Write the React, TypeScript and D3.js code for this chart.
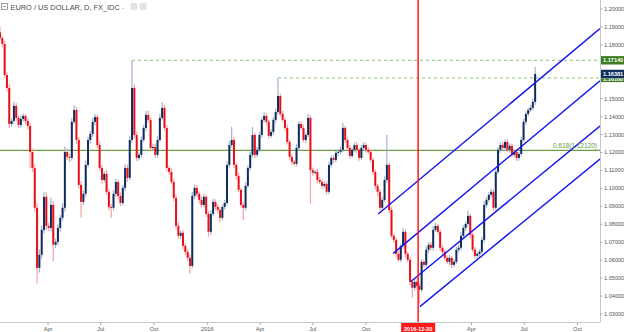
import React from "react";
import * as d3 from "d3";

const W = 624;
const H = 332;
const PLOT_RIGHT = 600;
const PLOT_BOTTOM = 322.5;

const START = new Date(2015, 0, 8);
const END = new Date(2017, 10, 9);
const STEP_DAYS = 4;

const title = "EURO / US DOLLAR, D, FX_IDC";
const firstOpen = 1.187;

// close of each 4-day candle
const closes = [
  1.1838, 1.1805, 1.1632, 1.156, 1.1359, 1.1376, 1.146, 1.1393, 1.1354, 1.1387,
  1.1404, 1.1376, 1.1348, 1.1203, 1.1114, 1.0892, 1.0557, 1.063, 1.0769, 1.0953,
  1.0791, 1.078, 1.0908, 1.0686, 1.0702, 1.078, 1.0836, 1.0892, 1.1203, 1.1176,
  1.117, 1.1371, 1.1437, 1.127, 1.102, 1.0925, 1.097, 1.1131, 1.127, 1.1304,
  1.1371, 1.1398, 1.1242, 1.1114, 1.1047, 1.1081, 1.0981, 1.0897, 1.0892, 1.097,
  1.1036, 1.0958, 1.0919, 1.1003, 1.1114, 1.1059, 1.127, 1.156, 1.1298, 1.117,
  1.1187, 1.127, 1.1337, 1.141, 1.1382, 1.1226, 1.1231, 1.1187, 1.127, 1.1393,
  1.1449, 1.1337, 1.1114, 1.1092, 1.1036, 1.0947, 1.0791, 1.0736, 1.0752, 1.068,
  1.0646, 1.0613, 1.0568, 1.0958, 1.1003, 1.097, 1.0936, 1.0908, 1.0953, 1.0858,
  1.0758, 1.0858, 1.0925, 1.0897, 1.088, 1.0836, 1.0897, 1.0919, 1.1131, 1.1242,
  1.127, 1.1131, 1.107, 1.0992, 1.0908, 1.0892, 1.1014, 1.1114, 1.1187, 1.1298,
  1.1187, 1.1215, 1.1298, 1.1382, 1.1404, 1.1371, 1.1293, 1.1315, 1.1382, 1.1426,
  1.1515, 1.1415, 1.1382, 1.1337, 1.1259, 1.1176, 1.1148, 1.1137, 1.1226, 1.1359,
  1.1337, 1.127, 1.1298, 1.1393, 1.1103, 1.1087, 1.1092, 1.1047, 1.1036, 1.1014,
  1.1025, 1.0981, 1.1131, 1.117, 1.1159, 1.1198, 1.1204, 1.1215, 1.1337, 1.127,
  1.1226, 1.1181, 1.1215, 1.1242, 1.1215, 1.117, 1.1226, 1.1242, 1.1215, 1.1204,
  1.1159, 1.1092, 1.1014, 1.0981, 1.0892, 1.0936, 1.1047, 1.1131, 1.088, 1.0736,
  1.0713, 1.0635, 1.0602, 1.068, 1.0758, 1.0635, 1.0602, 1.0479, 1.0446, 1.0479,
  1.0457, 1.0435, 1.0591, 1.0574, 1.0658, 1.0686, 1.0669, 1.0769, 1.0791, 1.0758,
  1.0669, 1.0647, 1.0613, 1.0591, 1.0613, 1.0574, 1.0591, 1.0658, 1.0669, 1.0736,
  1.078, 1.0802, 1.0847, 1.0741, 1.0658, 1.0624, 1.0635, 1.0647, 1.0713, 1.0908,
  1.0936, 1.0964, 1.0981, 1.0892, 1.1092, 1.1215, 1.1242, 1.1226, 1.1259, 1.1215,
  1.1237, 1.1187, 1.1204, 1.117, 1.1192, 1.127, 1.1371, 1.1415, 1.1437, 1.1449,
  1.1482, 1.16381,
];

// upper / lower wick beyond the body, in pips
const hiExt = [
  30, 12, 18, 15, 20, 14, 25, 16, 12, 18, 14, 10, 16, 20, 18, 22, 25, 30, 24, 28,
  26, 18, 40, 22, 18, 20, 16, 24, 30, 18, 20, 22, 28, 18, 16, 22, 20, 26, 18, 16,
  22, 18, 14, 20, 16, 18, 22, 14, 16, 20, 18, 14, 20, 16, 22, 18, 24, 154, 20, 18,
  16, 20, 18, 22, 26, 14, 18, 16, 20, 24, 33, 18, 16, 14, 20, 18, 16, 22, 14, 18,
  16, 14, 20, 22, 18, 16, 14, 20, 18, 12, 16, 20, 18, 14, 16, 18, 12, 16, 20, 22,
  73, 16, 14, 18, 12, 16, 20, 14, 18, 45, 12, 16, 18, 14, 20, 16, 12, 18, 14, 20,
  101, 14, 16, 12, 18, 14, 16, 12, 20, 16, 14, 18, 12, 22, 16, 14, 12, 18, 16, 14,
  12, 16, 18, 14, 16, 12, 14, 18, 27, 12, 14, 16, 12, 14, 18, 12, 14, 16, 12, 14,
  16, 12, 14, 10, 16, 18, 20, 167, 14, 16, 12, 14, 18, 12, 20, 14, 12, 16, 14, 18,
  20, 14, 16, 12, 18, 14, 16, 20, 18, 12, 14, 16, 12, 14, 18, 12, 14, 16, 18, 20,
  16, 14, 30, 12, 14, 16, 12, 14, 18, 20, 16, 14, 18, 12, 20, 16, 14, 18, 12, 16,
  14, 12, 16, 14, 12, 18, 16, 14, 12, 16, 18, 39,
];
const loExt = [
  14, 18, 16, 20, 22, 16, 14, 20, 18, 16, 14, 18, 20, 92, 24, 20, 87, 26, 22, 20,
  24, 18, 22, 91, 20, 18, 22, 16, 20, 18, 24, 16, 14, 22, 20, 89, 18, 16, 14, 20,
  16, 20, 18, 14, 22, 16, 18, 20, 56, 14, 16, 20, 18, 14, 16, 22, 14, 16, 20, 18,
  14, 16, 12, 18, 16, 20, 14, 18, 16, 12, 14, 18, 20, 16, 14, 18, 20, 16, 18, 20,
  16, 18, 44, 14, 16, 18, 20, 14, 16, 18, 28, 16, 14, 18, 20, 22, 14, 16, 12, 14,
  16, 18, 20, 14, 16, 70, 14, 12, 16, 14, 18, 14, 12, 16, 14, 18, 16, 12, 14, 16,
  14, 16, 12, 18, 14, 16, 18, 12, 14, 16, 12, 14, 18, 12, 188, 16, 14, 18, 12, 16,
  14, 16, 12, 14, 18, 12, 16, 14, 12, 18, 14, 16, 12, 14, 16, 18, 12, 14, 16, 12,
  14, 16, 18, 23, 16, 14, 12, 16, 18, 14, 16, 18, 12, 14, 16, 18, 14, 20, 56, 16,
  18, 75, 14, 16, 12, 18, 14, 16, 12, 14, 18, 16, 14, 12, 16, 18, 14, 12, 16, 14,
  12, 16, 14, 18, 12, 16, 14, 18, 12, 16, 14, 12, 16, 18, 14, 12, 16, 14, 18, 12,
  16, 14, 12, 18, 16, 14, 12, 16, 14, 12, 14, 16,
];

const resistanceIdx = [57, 120];
const resistancePrices = [1.1714, 1.1616];
const resistanceLabels = ["1.17140", "1.16160"];

const fibPrice = 1.1212;
const fibText = "0.618(1.12120)";

const channelStartDates = [new Date(2016, 9, 22), new Date(2016, 10, 17), new Date(2016, 11, 17), new Date(2017, 0, 2)];
const channelStartPrices = [1.0857, 1.0638, 1.048, 1.0341];
const channelEndPrices = [1.1891, 1.16, 1.1348, 1.1164];

const markerDate = new Date(2016, 11, 30);
const markerText = "2016-12-30";
const lastPrice = 1.16381;
const lastLabel = "1.16381";

const yTickValues = d3.range(103, 121).map((v) => v / 100);

const FONT = "'Liberation Sans', Arial, sans-serif";

export default function App() {
  const x = d3.scaleTime().domain([START, END]).range([0, PLOT_RIGHT]);
  const y = d3.scaleLinear().domain([1.03, 1.2]).range([314, 9]);

  const candles = closes.map((c, i) => {
    const o = i === 0 ? firstOpen : closes[i - 1];
    const hi = Math.max(o, c) + hiExt[i] / 10000;
    const lo = Math.min(o, c) - loExt[i] / 10000;
    return { date: d3.timeDay.offset(START, i * STEP_DAYS), o, c, hi, lo, up: c >= o };
  });

  const months = x.ticks(d3.timeMonth.every(3));
  const fmtMonth = d3.timeFormat("%b");
  const markerX = x(markerDate);

  const labelYs = [...resistancePrices, lastPrice].map((p) => y(p));
  const yTicksShown = yTickValues.filter((v) => labelYs.every((ly) => Math.abs(y(v) - ly) > 6));

  const bw = 2.0;
  const lastY = y(lastPrice);

  return (
    <div style={{ position: "absolute", left: 0, top: 0, width: W, height: H, background: "#fff" }}>
      <svg width={W} height={H} style={{ display: "block", fontFamily: FONT }}>
        <defs>
          <clipPath id="plot">
            <rect x={0} y={0} width={PLOT_RIGHT} height={PLOT_BOTTOM} />
          </clipPath>
          <clipPath id="belowLast">
            <rect x={600} y={lastY + 4.2} width={24} height={20} />
          </clipPath>
        </defs>

        <g clipPath="url(#plot)">
          {/* fib level */}
          <line x1={0} x2={PLOT_RIGHT} y1={y(fibPrice)} y2={y(fibPrice)} stroke="#6b9e45" strokeWidth={1.2} />
          {/* resistance dashed lines */}
          {resistanceIdx.map((idx, k) => (
            <line
              key={k}
              x1={x(candles[idx].date)}
              x2={PLOT_RIGHT}
              y1={y(resistancePrices[k])}
              y2={y(resistancePrices[k])}
              stroke="#8cbf78"
              strokeWidth={1}
              strokeDasharray="3,3"
            />
          ))}

          {/* wicks */}
          {candles.map((d, i) => (
            <line
              key={"w" + i}
              x1={x(d.date)}
              x2={x(d.date)}
              y1={y(d.hi)}
              y2={y(d.lo)}
              stroke={d.up ? "#9fb4cc" : "#f6a3a3"}
              strokeWidth={1.2}
            />
          ))}
          {/* bodies */}
          {candles.map((d, i) => {
            const top = y(Math.max(d.o, d.c));
            const h = Math.max(1, y(Math.min(d.o, d.c)) - top);
            return (
              <rect
                key={"b" + i}
                x={x(d.date) - bw / 2}
                y={top}
                width={bw}
                height={h}
                fill={d.up ? "#0e2d5e" : "#e8101a"}
              />
            );
          })}

          {/* channel lines */}
          {channelStartDates.map((sd, k) => (
            <line
              key={"c" + k}
              x1={x(sd)}
              y1={y(channelStartPrices[k])}
              x2={x(END)}
              y2={y(channelEndPrices[k])}
              stroke="#1414f0"
              strokeWidth={1.4}
            />
          ))}

          <text x={597} y={y(fibPrice) - 2.5} textAnchor="end" fontSize={6.5} fill="#5f9a3c">
            {fibText}
          </text>
        </g>

        {/* marker vertical line */}
        <line x1={markerX} x2={markerX} y1={0} y2={PLOT_BOTTOM} stroke="#ff1a1a" strokeWidth={1.5} />

        {/* axes */}
        <line x1={PLOT_RIGHT + 0.5} x2={PLOT_RIGHT + 0.5} y1={0} y2={PLOT_BOTTOM} stroke="#c8c8c8" strokeWidth={1} />
        <line x1={0} x2={PLOT_RIGHT} y1={PLOT_BOTTOM} y2={PLOT_BOTTOM} stroke="#c8c8c8" strokeWidth={1} />

        {yTicksShown.map((v) => (
          <g key={"y" + v}>
            <line x1={PLOT_RIGHT} x2={PLOT_RIGHT + 2.5} y1={y(v)} y2={y(v)} stroke="#aaa" />
            <text x={604} y={y(v)} dy="0.35em" fontSize={5.6} fill="#555">
              {v.toFixed(5)}
            </text>
          </g>
        ))}

        {months.map((m, i) => {
          const mx = x(m);
          if (Math.abs(mx - markerX) < 20) return null;
          return (
            <g key={"m" + i}>
              <line x1={mx} x2={mx} y1={PLOT_BOTTOM} y2={PLOT_BOTTOM + 2.5} stroke="#aaa" />
              <text x={mx} y={330.5} textAnchor="middle" fontSize={5.6} fill="#555">
                {m.getMonth() === 0 ? String(m.getFullYear()) : fmtMonth(m)}
              </text>
            </g>
          );
        })}

        {/* marker label */}
        <rect x={markerX - 17} y={PLOT_BOTTOM + 0.5} width={34} height={H - PLOT_BOTTOM} fill="#ff1a1a" />
        <text x={markerX} y={330.5} textAnchor="middle" fontSize={5.5} fill="#fff" fontWeight="bold">
          {markerText}
        </text>

        {/* price labels */}
        <g>
          <rect x={601} y={y(resistancePrices[0]) - 4.2} width={23} height={8.4} fill="#3d7d24" />
          <text x={603} y={y(resistancePrices[0])} dy="0.35em" fontSize={5.6} fill="#fff" fontWeight="bold">
            {resistanceLabels[0]}
          </text>
        </g>
        <g clipPath="url(#belowLast)">
          <rect x={601} y={y(resistancePrices[1]) - 4.2} width={23} height={8.4} fill="#3d7d24" />
          <text x={603} y={y(resistancePrices[1]) + 1} dy="0.35em" fontSize={5.6} fill="#fff" fontWeight="bold">
            {resistanceLabels[1]}
          </text>
        </g>
        <rect x={601} y={lastY - 4.2} width={23} height={8.4} fill="#0f3160" />
        <text x={603} y={lastY} dy="0.35em" fontSize={5.6} fill="#fff" fontWeight="bold">
          {lastLabel}
        </text>

        {/* title */}
        <rect x={1.5} y={3.5} width={6} height={6} fill="none" stroke="#888" strokeWidth={0.8} />
        <line x1={3} x2={6} y1={6.5} y2={6.5} stroke="#888" strokeWidth={0.8} />
        <text x={10.5} y={10} fontSize={7.4} fill="#4a4a4a">
          {title}
        </text>
        <text x={122} y={9.5} fontSize={7} fill="#aaa">
          -
        </text>
        <rect x={131} y={3.5} width={6} height={6} rx={1} fill="#e4e4e4" stroke="#d0d0d0" strokeWidth={0.5} />
        <rect x={140} y={3.5} width={6} height={6} rx={1} fill="#e4e4e4" stroke="#d0d0d0" strokeWidth={0.5} />
      </svg>
    </div>
  );
}
